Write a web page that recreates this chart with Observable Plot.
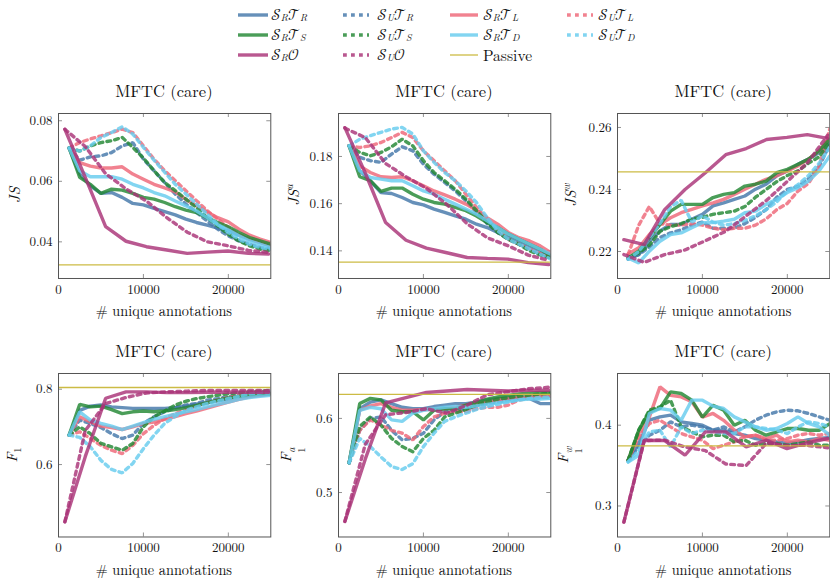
<!DOCTYPE html>
<html><head><meta charset="utf-8">
<script src="https://cdn.jsdelivr.net/npm/d3@7"></script>
<script src="https://cdn.jsdelivr.net/npm/@observablehq/plot@0.6"></script>
<style>
html,body{margin:0;padding:0;background:#fff;overflow:hidden;}
#root{position:relative;width:830px;height:582px;overflow:hidden;color:#111;}
.abs{position:absolute;white-space:nowrap;line-height:1;}
.title{font-size:16.5px;transform:translate(-50%,-50%);}
.xlab{font-size:14.3px;transform:translate(-50%,-50%);}
.ylab{font-size:15px;transform:translate(-50%,-50%) rotate(-90deg);}
.ylab i{font-style:italic;}
.ylab sup,.ylab sub{font-size:0.7em;}
.leg{font-size:15.5px;transform:translateY(-50%);}
.leg sub{font-size:0.64em;font-style:italic;vertical-align:baseline;position:relative;top:0.12em;line-height:0;}
svg.plot{position:absolute;}
</style>
</head><body><div id="root"></div>
<script>
// ---------- data ----------
const xs  = [1250,2500,3750,5000,6250,7500,8750,10000,11250,12500,13750,15000,16250,17500,18750,20000,21250,22500,23750,25000];
const xO  = [750,3150,5550,7950,10350,12750,15150,17550,19950,22350,24750];
const xTicks = [0,10000,20000];

// JS
const js_RR = [0.071,0.0624,0.0585,0.056,0.0563,0.0547,0.0527,0.0522,0.0511,0.05,0.0489,0.0475,0.0464,0.0455,0.0445,0.0436,0.0422,0.0409,0.0398,0.0387];
const js_UR = [0.071,0.067,0.0681,0.0684,0.0695,0.0717,0.0728,0.0673,0.0635,0.0596,0.0558,0.0525,0.0497,0.0469,0.0442,0.042,0.0403,0.0392,0.0381,0.0376];
const js_RL = [0.071,0.0662,0.065,0.0644,0.0644,0.0648,0.0624,0.0607,0.059,0.0578,0.0565,0.054,0.0519,0.0499,0.048,0.0466,0.0442,0.0422,0.0409,0.0398];
const js_UL = [0.071,0.0728,0.074,0.075,0.0761,0.0772,0.0761,0.0717,0.0673,0.0635,0.0602,0.0569,0.0536,0.0503,0.0475,0.0447,0.0425,0.0409,0.0398,0.0387];
const js_RS = [0.071,0.0613,0.059,0.056,0.0574,0.0571,0.056,0.0547,0.0541,0.053,0.0516,0.0505,0.0497,0.048,0.0464,0.045,0.0431,0.0414,0.0403,0.0392];
const js_US = [0.071,0.070,0.0717,0.0728,0.0734,0.0745,0.0712,0.0677,0.0635,0.0596,0.0569,0.0541,0.0513,0.048,0.0453,0.0425,0.0403,0.0387,0.0376,0.037];
const js_RD = [0.071,0.0635,0.0615,0.0615,0.0615,0.0607,0.059,0.0578,0.0563,0.0552,0.0535,0.0519,0.0502,0.048,0.0456,0.0439,0.042,0.0403,0.0392,0.0381];
const js_UD = [0.071,0.070,0.0717,0.0745,0.0761,0.078,0.0756,0.0712,0.067,0.063,0.059,0.0558,0.0525,0.0492,0.0458,0.0431,0.0409,0.0392,0.0381,0.0376];
const js_RO = [0.0772,0.0613,0.045,0.0402,0.0384,0.0373,0.0362,0.0366,0.037,0.0362,0.036];
const js_UO = [0.0772,0.0715,0.0625,0.0575,0.0535,0.048,0.0432,0.040,0.0387,0.0372,0.0365];
const js_passive = 0.0324;

// JS^a
const jsa_RR = [0.1845,0.1739,0.1697,0.1647,0.1643,0.1626,0.1605,0.1595,0.1577,0.1563,0.1548,0.1534,0.1513,0.1499,0.1478,0.1457,0.144,0.1421,0.14,0.1379];
const jsa_UR = [0.1845,0.1796,0.1782,0.1775,0.181,0.1841,0.1824,0.1767,0.1725,0.169,0.1654,0.1612,0.1563,0.1516,0.1478,0.1449,0.1428,0.1407,0.1386,0.1372];
const jsa_RL = [0.1845,0.176,0.1732,0.1714,0.1711,0.1714,0.1697,0.1676,0.1654,0.1637,0.1619,0.1598,0.1572,0.1541,0.1513,0.1478,0.1456,0.1442,0.1421,0.1393];
const jsa_UL = [0.1845,0.1838,0.1845,0.1859,0.188,0.1902,0.188,0.1824,0.1782,0.1739,0.1697,0.164,0.1584,0.1534,0.1485,0.1449,0.1428,0.1407,0.1389,0.1372];
const jsa_RS = [0.1845,0.1714,0.1697,0.1652,0.1666,0.1666,0.164,0.1619,0.1605,0.1598,0.1584,0.157,0.1548,0.152,0.1499,0.1471,0.1449,0.1428,0.1407,0.1379];
const jsa_US = [0.1845,0.1817,0.1803,0.1817,0.1841,0.1873,0.1845,0.1782,0.1732,0.1697,0.1661,0.1619,0.157,0.152,0.1478,0.1449,0.1428,0.14,0.1383,0.1369];
const jsa_RD = [0.1845,0.1739,0.1711,0.1704,0.1697,0.1697,0.1676,0.1654,0.164,0.1619,0.1598,0.1577,0.1555,0.1527,0.1499,0.1471,0.1449,0.1428,0.1407,0.1386];
const jsa_UD = [0.1845,0.1873,0.1888,0.1902,0.1916,0.1923,0.1895,0.1824,0.1775,0.1732,0.1697,0.1654,0.1605,0.1541,0.1485,0.1449,0.1428,0.1407,0.1386,0.1365];
const jsa_RO = [0.1922,0.173,0.152,0.1445,0.1412,0.1392,0.1372,0.1368,0.1365,0.135,0.1342];
const jsa_UO = [0.192,0.188,0.177,0.1714,0.1665,0.1597,0.1515,0.1455,0.1422,0.1382,0.136];
const jsa_passive = 0.1352;

// JS^w
const jsw_RR = [0.2179,0.219,0.2233,0.2266,0.2287,0.2287,0.2304,0.232,0.2347,0.2357,0.2368,0.2379,0.2401,0.2417,0.2444,0.246,0.2481,0.2498,0.2519,0.2551];
const jsw_UR = [0.2175,0.219,0.2215,0.2245,0.226,0.227,0.2285,0.2295,0.2275,0.2275,0.2275,0.229,0.231,0.2335,0.2375,0.240,0.241,0.2435,0.2475,0.2545];
const jsw_RL = [0.2192,0.2212,0.2255,0.2287,0.2309,0.2325,0.2336,0.2347,0.2357,0.2368,0.2384,0.2401,0.2417,0.2433,0.2444,0.246,0.2476,0.2498,0.2525,0.2568];
const jsw_UL = [0.219,0.2285,0.2345,0.229,0.2285,0.2285,0.229,0.2285,0.2275,0.227,0.2275,0.2275,0.2285,0.2305,0.2335,0.2355,0.2395,0.242,0.2475,0.2595];
const jsw_RS = [0.2179,0.2201,0.2244,0.2287,0.233,0.2352,0.2352,0.2352,0.2374,0.2384,0.239,0.2411,0.2417,0.2427,0.2454,0.2465,0.2481,0.2498,0.2525,0.2562];
const jsw_US = [0.218,0.2195,0.222,0.2265,0.228,0.229,0.2305,0.231,0.232,0.2325,0.233,0.2345,0.2375,0.240,0.2425,0.2445,0.246,0.2485,0.2505,0.2555];
const jsw_RD = [0.2179,0.2163,0.2201,0.2233,0.2255,0.226,0.2277,0.2293,0.2293,0.2298,0.2304,0.2325,0.233,0.2352,0.2368,0.239,0.2406,0.2427,0.246,0.2508];
const jsw_UD = [0.2175,0.220,0.2245,0.229,0.2345,0.2365,0.2295,0.2315,0.2295,0.2285,0.229,0.230,0.2315,0.2335,0.236,0.2395,0.2415,0.2445,0.2485,0.2535];
const jsw_RO = [0.2238,0.2222,0.2335,0.240,0.2454,0.2512,0.2532,0.2561,0.2568,0.2577,0.2565];
const jsw_UO = [0.219,0.2165,0.219,0.2205,0.2235,0.2265,0.2315,0.2365,0.2425,0.2485,0.2575];
const jsw_passive = 0.2457;

// F1
const f1_RR = [0.678,0.744,0.755,0.758,0.753,0.751,0.749,0.749,0.749,0.749,0.751,0.755,0.76,0.764,0.769,0.774,0.778,0.781,0.784,0.787];
const f1_UR = [0.678,0.718,0.709,0.698,0.682,0.669,0.678,0.709,0.727,0.74,0.751,0.758,0.762,0.771,0.775,0.78,0.784,0.788,0.79,0.793];
const f1_RL = [0.678,0.727,0.713,0.702,0.698,0.693,0.7,0.709,0.713,0.72,0.727,0.735,0.742,0.75,0.758,0.766,0.773,0.78,0.784,0.788];
const f1_UL = [0.678,0.687,0.669,0.651,0.638,0.629,0.651,0.682,0.704,0.722,0.735,0.746,0.755,0.764,0.771,0.778,0.783,0.787,0.788,0.79];
const f1_RS = [0.678,0.760,0.753,0.755,0.746,0.735,0.74,0.742,0.74,0.742,0.746,0.751,0.757,0.764,0.771,0.777,0.781,0.784,0.787,0.788];
const f1_US = [0.678,0.70,0.682,0.656,0.647,0.638,0.656,0.70,0.727,0.742,0.758,0.768,0.775,0.78,0.784,0.788,0.791,0.793,0.795,0.796];
const f1_RD = [0.678,0.74,0.718,0.709,0.702,0.693,0.702,0.711,0.72,0.727,0.734,0.74,0.746,0.753,0.76,0.766,0.773,0.778,0.781,0.784];
const f1_UD = [0.678,0.672,0.647,0.611,0.587,0.578,0.603,0.642,0.678,0.709,0.728,0.744,0.753,0.762,0.769,0.775,0.781,0.787,0.79,0.793];
const f1_RO = [0.448,0.621,0.776,0.793,0.793,0.791,0.791,0.792,0.792,0.792,0.792];
const f1_UO = [0.448,0.69,0.762,0.778,0.79,0.793,0.795,0.797,0.797,0.797,0.796];
const f1_passive = 0.8045;

// F1^a
const f1a_RR = [0.54,0.613,0.622,0.625,0.62,0.615,0.613,0.613,0.616,0.618,0.62,0.62,0.622,0.625,0.627,0.627,0.627,0.627,0.62,0.62];
const f1a_UR = [0.54,0.584,0.6,0.602,0.584,0.571,0.573,0.58,0.598,0.609,0.611,0.612,0.617,0.62,0.622,0.625,0.627,0.628,0.629,0.63];
const f1a_RL = [0.54,0.611,0.617,0.62,0.615,0.611,0.611,0.612,0.612,0.613,0.615,0.618,0.62,0.622,0.625,0.627,0.628,0.629,0.63,0.63];
const f1a_UL = [0.54,0.584,0.598,0.591,0.584,0.58,0.571,0.589,0.602,0.607,0.609,0.609,0.613,0.615,0.615,0.618,0.625,0.627,0.628,0.629];
const f1a_RS = [0.54,0.62,0.627,0.625,0.611,0.609,0.609,0.598,0.611,0.613,0.613,0.618,0.622,0.626,0.629,0.631,0.633,0.634,0.635,0.635];
const f1a_US = [0.54,0.589,0.602,0.591,0.573,0.562,0.555,0.573,0.584,0.602,0.607,0.612,0.618,0.622,0.626,0.628,0.63,0.631,0.633,0.634];
const f1a_RD = [0.54,0.611,0.615,0.613,0.598,0.596,0.607,0.611,0.613,0.615,0.616,0.615,0.617,0.619,0.621,0.623,0.625,0.626,0.626,0.627];
const f1a_UD = [0.54,0.573,0.562,0.548,0.535,0.531,0.539,0.562,0.58,0.596,0.602,0.607,0.612,0.616,0.619,0.622,0.625,0.627,0.628,0.629];
const f1a_RO = [0.461,0.545,0.621,0.628,0.635,0.637,0.639,0.638,0.637,0.638,0.638];
const f1a_UO = [0.461,0.565,0.605,0.608,0.613,0.607,0.618,0.632,0.636,0.64,0.642];
const f1a_passive = 0.6323;

// F1^w
const f1w_RR = [0.3566,0.3773,0.4062,0.4103,0.4124,0.4041,0.4021,0.40,0.3938,0.3938,0.3897,0.3876,0.3835,0.3814,0.3793,0.3773,0.3793,0.3822,0.3835,0.3847];
const f1w_UR = [0.3566,0.373,0.3876,0.3938,0.4041,0.3979,0.40,0.3979,0.3938,0.3979,0.3917,0.3979,0.4062,0.4124,0.4165,0.4186,0.4178,0.4145,0.4103,0.4062];
const f1w_RL = [0.3566,0.39,0.41,0.4475,0.437,0.435,0.429,0.41,0.4145,0.406,0.394,0.3855,0.3876,0.3835,0.3876,0.3793,0.3814,0.3793,0.3835,0.3814];
const f1w_UL = [0.3566,0.3855,0.402,0.4062,0.3979,0.3897,0.3855,0.3814,0.371,0.3752,0.3793,0.3855,0.3876,0.3814,0.3814,0.3835,0.3876,0.3897,0.3876,0.3897];
const f1w_RS = [0.3566,0.3938,0.4165,0.4207,0.4413,0.4393,0.431,0.41,0.4248,0.4186,0.40,0.4062,0.3938,0.3876,0.3917,0.3959,0.3959,0.3938,0.3938,0.402];
const f1w_US = [0.3566,0.3938,0.4186,0.4227,0.431,0.3979,0.3917,0.3855,0.3876,0.3876,0.3793,0.3814,0.3752,0.3773,0.3773,0.3752,0.3773,0.3793,0.3752,0.3752];
const f1w_RD = [0.3545,0.3628,0.4145,0.4207,0.4186,0.4062,0.431,0.431,0.4236,0.4207,0.4103,0.4041,0.3979,0.3938,0.3959,0.4021,0.4103,0.4021,0.3979,0.3876];
const f1w_UD = [0.3545,0.369,0.3917,0.3938,0.373,0.3979,0.3897,0.3938,0.3917,0.3897,0.3897,0.3979,0.3979,0.3959,0.3938,0.3897,0.3979,0.4041,0.4021,0.3979];
const f1w_RO = [0.28,0.3814,0.381,0.3628,0.3917,0.3917,0.3731,0.3814,0.371,0.378,0.3835];
const f1w_UO = [0.28,0.381,0.3815,0.373,0.3685,0.352,0.35,0.378,0.375,0.375,0.372];
const f1w_passive = 0.3744;

// series order (legend order), colors
const seriesKeys = ["RR","UR","RL","UL","RS","US","RD","UD","RO","UO"];
const colorOf = {R:"#4477AA", L:"#EE6677", S:"#228833", D:"#66CCEE", O:"#AA3377"};
const passiveColor = "#CCBB44";
const M = (s) => `<span class="cal">${s}</span>`;
const legendLabels = {
  RR: M('𝒮')+'<sub>R</sub>'+M('𝒯')+'<sub>R</sub>', UR: M('𝒮')+'<sub>U</sub>'+M('𝒯')+'<sub>R</sub>',
  RL: M('𝒮')+'<sub>R</sub>'+M('𝒯')+'<sub>L</sub>', UL: M('𝒮')+'<sub>U</sub>'+M('𝒯')+'<sub>L</sub>',
  RS: M('𝒮')+'<sub>R</sub>'+M('𝒯')+'<sub>S</sub>', US: M('𝒮')+'<sub>U</sub>'+M('𝒯')+'<sub>S</sub>',
  RD: M('𝒮')+'<sub>R</sub>'+M('𝒯')+'<sub>D</sub>', UD: M('𝒮')+'<sub>U</sub>'+M('𝒯')+'<sub>D</sub>',
  RO: M('𝒮')+'<sub>R</sub>'+M('𝒪'), UO: M('𝒮')+'<sub>U</sub>'+M('𝒪'), P: 'Passive'
};

// ---------- layout ----------
const FONT = '"Latin Modern Roman", "Liberation Serif", "DejaVu Serif"';
const MATHFONT = '"Latin Modern Math", "Latin Modern Roman", "Liberation Serif"';
const root = document.getElementById("root");
root.style.fontFamily = FONT;
const FW = 212.3;
const colLeft = [57.7, 337.7, 617];
const rowTop = [112.7, 373.3];
const rowH = [165, 163.5];
const mL = 57, mT = 8, mR = 8, mB = 40;
const dash = "3.8,4.2";

function add(cls, html, x, y) {
  const d = document.createElement("div");
  d.className = "abs " + cls;
  d.innerHTML = html;
  d.style.left = x + "px"; d.style.top = y + "px";
  d.style.fontFamily = FONT;
  d.querySelectorAll(".cal").forEach(e => e.style.fontFamily = MATHFONT);
  root.appendChild(d);
  return d;
}

function panel(c, r, data, yDomain, yTicks, yFmt, passive, ylab) {
  const H = rowH[r];
  const marks = [];
  marks.push(Plot.ruleX(xTicks, {stroke:"#777", strokeWidth:0.8, insetTop: H - 4}));
  marks.push(Plot.ruleX(xTicks, {stroke:"#777", strokeWidth:0.8, insetBottom: H - 4}));
  marks.push(Plot.ruleY(yTicks, {stroke:"#777", strokeWidth:0.8, insetRight: FW - 4}));
  marks.push(Plot.ruleY(yTicks, {stroke:"#777", strokeWidth:0.8, insetLeft: FW - 4}));
  for (const k of seriesKeys) {
    const xv = k[1] === "O" ? xO : xs;
    const pts = data[k].map((v, i) => ({x: xv[i], y: v}));
    marks.push(Plot.line(pts, {
      x: "x", y: "y", stroke: colorOf[k[1]], strokeWidth: 3.4, strokeOpacity: 0.82,
      strokeDasharray: k[0] === "U" ? dash : null, strokeLinejoin: "miter", clip: true
    }));
  }
  marks.push(Plot.ruleY([passive], {stroke: passiveColor, strokeWidth: 1.3}));
  marks.push(Plot.frame({stroke:"#555", strokeWidth:1}));
  marks.push(Plot.axisX(xTicks, {tickSize:0, tickPadding:6, tickFormat: d3.format("d"), label:null, fontFamily: FONT}));
  marks.push(Plot.axisY(yTicks, {tickSize:0, tickPadding:6, tickFormat: d3.format(yFmt), label:null, fontFamily: FONT}));
  const svg = Plot.plot({
    width: mL + FW + mR, height: mT + H + mB,
    marginLeft: mL, marginTop: mT, marginRight: mR, marginBottom: mB,
    x: {domain: [0, 25000]},
    y: {domain: yDomain},
    style: {fontSize: "13px", color: "#111", background: "transparent"},
    marks
  });
  svg.classList.add("plot");
  svg.style.fontFamily = FONT;
  svg.querySelectorAll("text").forEach(t => t.style.fontFamily = FONT);
  svg.style.left = (colLeft[c] - mL) + "px";
  svg.style.top = (rowTop[r] - mT) + "px";
  root.appendChild(svg);
  const cx = colLeft[c] + FW / 2;
  add("title", "MFTC (care)", cx, r === 0 ? 89.5 : 349.5);
  add("xlab", "# unique annotations", cx, r === 0 ? 309.5 : 569);
  const yx = [12.5, 291.5, 569][c];
  add("ylab", ylab, yx, rowTop[r] + H / 2);
}

const stack = (sup) => `<i>F</i><span style='display:inline-flex;flex-direction:column;font-size:0.7em;line-height:1;vertical-align:-0.35em'><i>${sup}</i><span>1</span></span>`;

panel(0, 0, {RR:js_RR,UR:js_UR,RL:js_RL,UL:js_UL,RS:js_RS,US:js_US,RD:js_RD,UD:js_UD,RO:js_RO,UO:js_UO},
  [0.0279, 0.0824], [0.04,0.06,0.08], ".2f", js_passive, "<i>JS</i>");
panel(1, 0, {RR:jsa_RR,UR:jsa_UR,RL:jsa_RL,UL:jsa_UL,RS:jsa_RS,US:jsa_US,RD:jsa_RD,UD:jsa_UD,RO:jsa_RO,UO:jsa_UO},
  [0.1283, 0.1982], [0.14,0.16,0.18], ".2f", jsa_passive, "<i>JS</i><sup><i>a</i></sup>");
panel(2, 0, {RR:jsw_RR,UR:jsw_UR,RL:jsw_RL,UL:jsw_UL,RS:jsw_RS,US:jsw_US,RD:jsw_RD,UD:jsw_UD,RO:jsw_RO,UO:jsw_UO},
  [0.2113, 0.2645], [0.22,0.24,0.26], ".2f", jsw_passive, "<i>JS</i><sup><i>w</i></sup>");
panel(0, 1, {RR:f1_RR,UR:f1_UR,RL:f1_RL,UL:f1_UL,RS:f1_RS,US:f1_US,RD:f1_RD,UD:f1_UD,RO:f1_RO,UO:f1_UO},
  [0.4077, 0.8417], [0.6,0.8], ".1f", f1_passive, "<i>F</i><sub>1</sub>");
panel(1, 1, {RR:f1a_RR,UR:f1a_UR,RL:f1a_RL,UL:f1a_UL,RS:f1a_RS,US:f1a_US,RD:f1a_RD,UD:f1a_UD,RO:f1a_RO,UO:f1a_UO},
  [0.44, 0.6606], [0.5,0.6], ".1f", f1a_passive, stack("a"));
panel(2, 1, {RR:f1w_RR,UR:f1w_UR,RL:f1w_RL,UL:f1w_UL,RS:f1w_RS,US:f1w_US,RD:f1w_RD,UD:f1w_UD,RO:f1w_RO,UO:f1w_UO},
  [0.2616, 0.464], [0.3,0.4], ".1f", f1w_passive, stack("w"));

// ---------- legend ----------
const legRows = [["RR","UR","RL","UL"],["RS","US","RD","UD"],["RO","UO","P"]];
const legSampleX = [238, 343, 450, 567];
const legSampleW = [30, 26, 28, 26];
const legTextX = [271, 377, 483, 598];
const legY = [14.5, 34.5, 55];
legRows.forEach((row, ri) => row.forEach((k, ci) => {
  const w = legSampleW[ci];
  const sw = document.createElementNS("http://www.w3.org/2000/svg", "svg");
  sw.setAttribute("width", w); sw.setAttribute("height", 8);
  sw.style.position = "absolute";
  sw.style.left = legSampleX[ci] + "px"; sw.style.top = (legY[ri] - 4) + "px";
  const ln = document.createElementNS("http://www.w3.org/2000/svg", "line");
  ln.setAttribute("x1", 0); ln.setAttribute("x2", w); ln.setAttribute("y1", 4); ln.setAttribute("y2", 4);
  if (k === "P") {
    ln.setAttribute("stroke", passiveColor); ln.setAttribute("stroke-width", 1.3);
  } else {
    ln.setAttribute("stroke", colorOf[k[1]]); ln.setAttribute("stroke-width", 3.4);
    ln.setAttribute("stroke-opacity", 0.82);
    if (k[0] === "U") ln.setAttribute("stroke-dasharray", dash);
  }
  sw.appendChild(ln);
  root.appendChild(sw);
  add("leg", legendLabels[k], legTextX[ci], legY[ri]);
}));
</script>
</body></html>
